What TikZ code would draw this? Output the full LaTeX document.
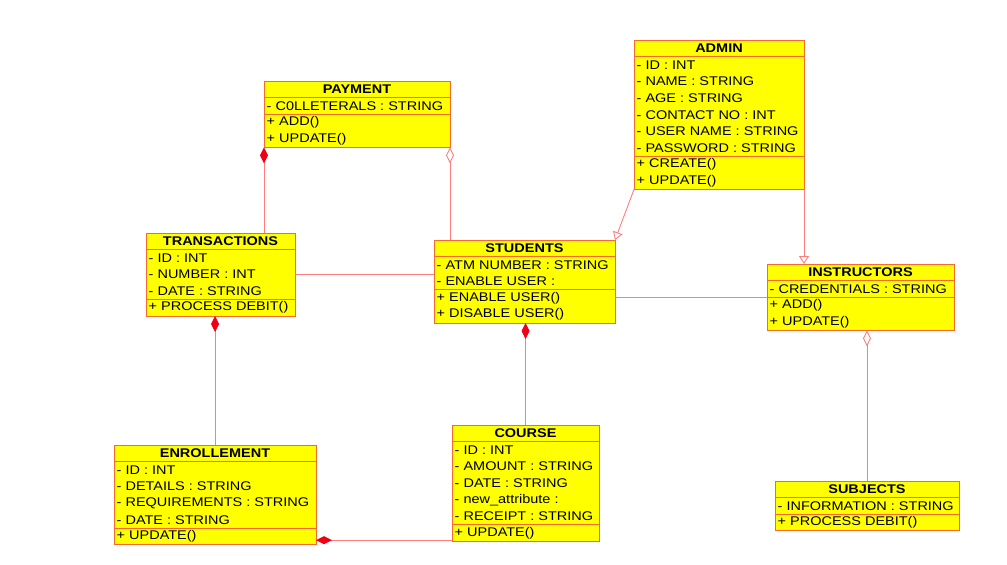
\documentclass[tikz,border=0pt]{standalone}
\usepackage{fontspec}
\setmainfont{Liberation Sans}[FakeStretch=1.15]
\usetikzlibrary{arrows.meta,calc}
\definecolor{boxfill}{RGB}{255,255,0}
\definecolor{boxline}{RGB}{245,105,50}
\definecolor{conn}{RGB}{255,125,125}
\definecolor{dia}{RGB}{240,0,20}
\def\rowh{16.6}
\tikzset{
  classbox/.style={draw=boxline, fill=boxfill, line width=1pt, inner sep=0pt, outer sep=0pt, anchor=north west},
  titletext/.style={font=\fontsize{12.6}{14}\selectfont\bfseries, inner sep=0pt, anchor=center},
  rowtext/.style={font=\fontsize{12.6}{14}\selectfont, inner sep=0pt, anchor=west},
  sepline/.style={draw=boxline, line width=1pt},
  assoc/.style={draw=conn, line width=0.9pt},
  compo/.style={assoc, -{Diamond[length=16pt,width=8pt,color=dia,fill=dia]}},
  aggr/.style={assoc, -{Diamond[open,length=16pt,width=8pt,color=conn,fill=white]}},
  inher/.style={assoc, -{Triangle[open,length=8pt,width=10pt,color=conn,fill=white]}}
}
% #1 name, #2 x, #3 y, #4 width, #5 title, #6 number of attributes, #7 total rows, #8 attributes, #9 methods
\newcommand\umlclass[9]{%
  \pgfmathsetmacro\hh{#7*\rowh}%
  \node[classbox, minimum width=#4pt, minimum height=\hh pt] (#1) at (#2,#3) {};
  \node[titletext] (#1-t) at ({#2+#4/2},{#3+0.5*\rowh}) {#5};
  \draw[sepline] (#2,{#3+\rowh}) -- ({#2+#4},{#3+\rowh});
  \draw[sepline] (#2,{#3+(1+#6)*\rowh}) -- ({#2+#4},{#3+(1+#6)*\rowh});
  \foreach \t [count=\i] in {#8} {\node[rowtext] (#1-a\i) at ({#2+2.5},{#3+(\i+0.5)*\rowh}) {\t};}
  \foreach \t [count=\i] in {#9} {\node[rowtext] (#1-m\i) at ({#2+2.5},{#3+(#6+\i+0.5)*\rowh}) {\t};}
}
\begin{document}
\begin{tikzpicture}[x=1pt,y=-1pt]
\useasboundingbox (0,0) rectangle (1007,565);
\umlclass{payment}{264}{81}{186}{PAYMENT}{1}{4}{- C0LLETERALS : STRING}{+ ADD(), + UPDATE()}
\umlclass{admin}{634}{40}{170}{ADMIN}{6}{9}{- ID : INT, - NAME : STRING, - AGE : STRING, - CONTACT NO : INT, - USER NAME : STRING, - PASSWORD : STRING}{+ CREATE(), + UPDATE()}
\umlclass{trans}{146}{233}{149}{TRANSACTIONS}{3}{5}{- ID : INT, - NUMBER : INT, - DATE : STRING}{+ PROCESS DEBIT()}
\umlclass{students}{434}{240}{181}{STUDENTS}{2}{5}{- ATM NUMBER : STRING, - ENABLE USER :}{+ ENABLE USER(), + DISABLE USER()}
\umlclass{instr}{767}{264}{187}{INSTRUCTORS}{1}{4}{- CREDENTIALS : STRING}{+ ADD(), + UPDATE()}
\umlclass{enroll}{114}{445}{202}{ENROLLEMENT}{4}{6}{- ID : INT, - DETAILS : STRING, - REQUIREMENTS : STRING, - DATE : STRING}{+ UPDATE()}
\umlclass{course}{452}{425}{147}{COURSE}{5}{7}{- ID : INT, - AMOUNT : STRING, - DATE : STRING, - new\_attribute :, - RECEIPT : STRING}{+ UPDATE()}
\umlclass{subj}{775}{481}{184}{SUBJECTS}{1}{3}{- INFORMATION : STRING}{+ PROCESS DEBIT()}
% connectors
\draw[compo] (payment.south west |- trans.north) -- (payment.south west);
\draw[aggr] (payment.south east |- students.north) -- (payment.south east);
\draw[assoc] (trans.east) -- (trans.east -| students.west);
\draw[assoc] (instr.west) -- (instr.west -| students.east);
\draw[inher] (admin.south west) -- (students.north east);
\draw[inher] (admin.south east) -- (admin.south east |- instr.north);
\draw[compo] (enroll.north) -- (enroll.north |- trans.south);
\draw[compo] (course.north) -- (course.north |- students.south);
\draw[aggr] (subj.north) -- (subj.north |- instr.south);
\draw[compo] ([yshift=1pt]course.south west) -- ([yshift=1pt]course.south west -| enroll.east);
\end{tikzpicture}
\end{document}
